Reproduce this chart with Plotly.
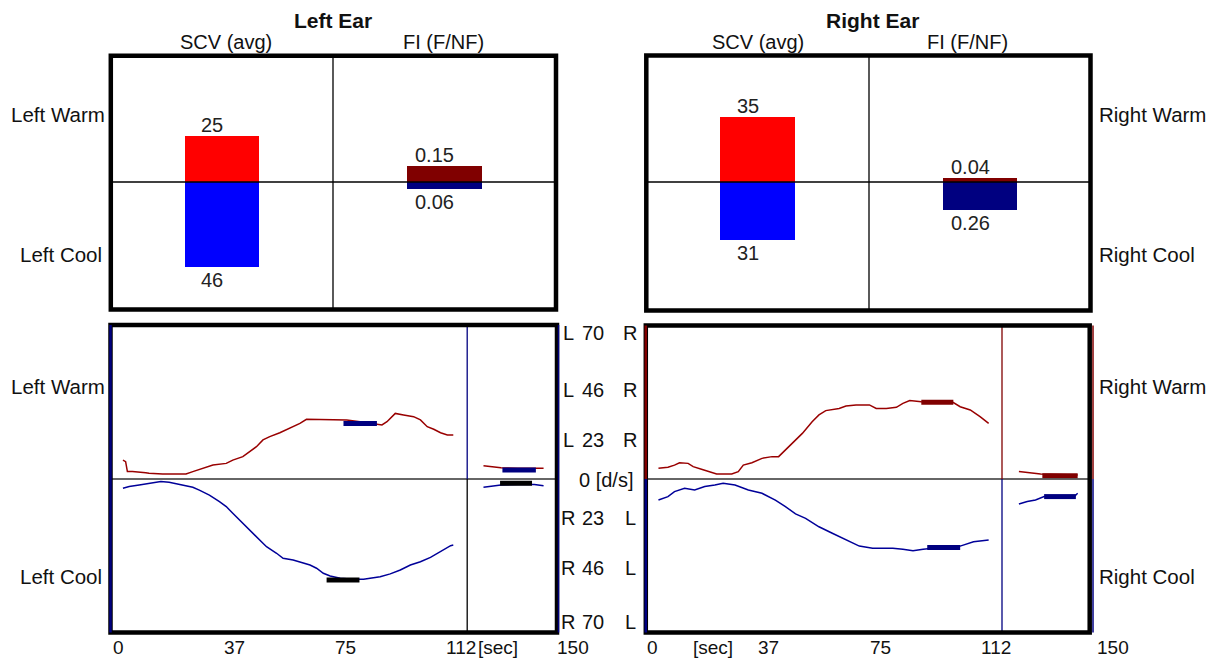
import plotly.graph_objects as go

W, H = 1213, 661

# ---------------- data ----------------
ears = ["Left Ear", "Right Ear"]
scv_warm = [25, 35]          # SCV (avg), warm (left ear, right ear)
scv_cool = [46, 31]          # SCV (avg), cool
fi_warm = [0.15, 0.04]       # FI (F/NF), warm
fi_cool = [0.06, 0.26]       # FI (F/NF), cool

marker_time = 120            # end of stimulus [sec]

# left ear, warm response (d/s) over time (sec)
lw_t = [3.7, 4.6, 5.2, 6.9, 11.4, 12.5, 17.1, 25.0, 27.3, 30.7, 34.1, 38.6, 40.8, 44.2, 46.5, 48.8, 51.0,
        53.3, 56.7, 60.1, 63.5, 65.7, 69.1, 74.8, 79.3, 83.8, 88.4, 91.2, 92.9, 94.6, 95.7, 98.5, 101.9,
        104.2, 106.5, 108.7, 111.0, 113.3, 115.3]
lw_v = [8.7, 8.0, 3.4, 3.4, 2.9, 2.6, 2.3, 2.3, 3.4, 4.9, 6.4, 7.2, 8.7, 10.3, 12.6, 14.9, 18.0, 19.5,
        21.3, 23.3, 25.6, 27.5, 27.5, 27.2, 27.2, 26.4, 25.6, 24.9, 26.4, 28.7, 30.2, 29.5, 28.7, 27.2,
        24.1, 22.9, 21.3, 20.3, 20.3]
lw_post_t = [125.5, 128.0, 131.4, 137.0, 145.8]
lw_post_v = [6.1, 5.7, 5.2, 4.9, 4.9]
lw_hl_t = [78.2, 89.5]
lw_hl_v = [25.6, 25.6]
lw_post_hl_t = [131.9, 143.2]
lw_post_hl_v = [4.1, 4.1]

# left ear, cool response
lc_t = [3.7, 5.8, 9.2, 12.5, 16.5, 19.3, 23.9, 27.3, 29.5, 32.9, 36.3, 38.6, 40.8, 43.1, 45.4, 47.6, 49.9,
        52.2, 55.6, 57.8, 61.2, 64.6, 66.9, 69.1, 71.4, 73.7, 77.1, 81.6, 85.0, 87.2, 90.6, 94.0, 97.4,
        100.8, 104.2, 107.6, 109.9, 112.1, 114.4, 115.3]
lc_v = [-4.3, -3.5, -2.8, -2.0, -1.2, -1.5, -2.8, -3.8, -5.1, -7.4, -10.4, -12.7, -15.8, -18.9, -22.0,
        -25.0, -28.1, -31.2, -34.2, -36.5, -37.3, -38.8, -39.6, -41.1, -43.4, -44.7, -45.7, -46.2, -46.2,
        -45.7, -45.0, -43.7, -41.9, -39.6, -38.1, -36.1, -34.2, -32.7, -30.7, -30.4]
lc_post_t = [125.5, 129.1, 131.4, 137.0, 142.7, 145.8]
lc_post_v = [-3.8, -3.2, -2.8, -2.5, -2.5, -3.1]
lc_hl_t = [72.5, 83.6]
lc_hl_v = [-46.5, -46.5]
lc_post_hl_t = [131.1, 141.9]
lc_post_hl_v = [-2.0, -2.0]

# right ear, warm response
rw_t = [4.2, 7.4, 9.6, 11.3, 14.2, 15.9, 18.7, 21.0, 23.8, 28.9, 31.1, 32.8, 35.7, 39.1, 42.5, 44.7, 47.0,
        49.3, 52.7, 56.0, 58.3, 60.6, 65.1, 67.4, 70.8, 75.3, 77.6, 81.0, 84.4, 86.6, 88.9, 92.8, 103.6,
        105.9, 109.3, 112.6, 115.5]
rw_v = [4.9, 5.4, 6.4, 7.5, 7.2, 5.7, 4.5, 3.4, 2.3, 2.3, 3.4, 6.4, 7.5, 9.5, 10.3, 10.3, 13.4, 16.4,
        21.0, 26.4, 29.5, 31.5, 32.5, 33.6, 34.1, 34.1, 32.5, 32.5, 33.0, 34.8, 36.1, 35.6, 35.2, 33.3,
        31.8, 28.7, 25.6]
rw_post_t = [125.7, 129.6, 133.0, 145.5]
rw_post_v = [3.4, 2.9, 2.3, 1.8]
rw_hl_t = [92.8, 103.6]
rw_hl_v = [35.3, 35.3]
rw_post_hl_t = [133.6, 145.5]
rw_post_hl_v = [1.5, 1.5]

# right ear, cool response
rc_t = [4.2, 7.4, 9.6, 13.0, 16.4, 19.8, 23.2, 26.0, 30.0, 34.5, 39.1, 43.6, 47.0, 50.4, 53.8, 58.3, 62.8,
        67.4, 71.9, 76.4, 83.2, 86.6, 90.0, 93.4, 99.1, 105.9, 110.4, 115.5]
rc_v = [-9.7, -8.1, -5.8, -4.3, -5.1, -3.5, -2.8, -2.0, -2.8, -5.1, -6.6, -9.7, -12.7, -16.1, -18.1,
        -22.0, -25.0, -28.1, -30.9, -31.9, -31.9, -32.4, -33.0, -32.4, -31.5, -30.9, -28.9, -28.1]
rc_post_t = [125.7, 128.5, 131.3, 134.2, 144.4, 145.5]
rc_post_v = [-11.5, -10.4, -9.7, -8.1, -8.1, -6.6]
rc_hl_t = [94.8, 105.9]
rc_hl_v = [-31.5, -31.5]
rc_post_hl_t = [134.2, 144.9]
rc_post_hl_v = [-8.1, -8.1]

# tick labels
time_tick_labels = ["0", "37", "75", "112", "150"]
time_tick_pos = [0, 37.5, 75, 112.5, 150]
speed_scale_labels = [70, 46, 23, 0, 23, 46, 70]
speed_scale_pos = [67.2, 41.0, 18.0, -0.5, -18.0, -41.0, -65.9]
speed_scale_sides = [("L", "R"), ("L", "R"), ("L", "R"), None, ("R", "L"), ("R", "L"), ("R", "L")]

# ---------------- styling ----------------
FONT = "Liberation Sans, Arial, sans-serif"
RED, BLUE = "#ff0000", "#0000ff"
DRED, NAVY = "#800000", "#000080"
CURVE_RED, CURVE_BLUE = "#990000", "#000099"
FS = 20
TXT = "#111"


def px(x):
    return x / W


def py(y):
    return 1 - y / H


fig = go.Figure()

axes = {
    "1": ((111, 333), (52, 312), [-1.5, 1.5], [-70, 70]),
    "2": ((333, 556), (52, 312), [-1.5, 1.5], [-1.2, 1.2]),
    "3": ((646, 869), (52, 312), [-1.5, 1.5], [-70, 70]),
    "4": ((869, 1091), (52, 312), [-1.5, 1.5], [-1.2, 1.2]),
    "5": ((112, 556), (327, 631), [0, 150], [-70, 70]),
    "6": ((646, 1091), (327, 631), [0, 150], [-70, 70]),
}
layout_axes = {}
for k, (xd, yd, xr, yr) in axes.items():
    xn = "xaxis" if k == "1" else "xaxis" + k
    yn = "yaxis" if k == "1" else "yaxis" + k
    layout_axes[xn] = dict(domain=[px(xd[0]), px(xd[1])], range=xr, visible=False, fixedrange=True,
                           anchor="y" if k == "1" else "y" + k)
    layout_axes[yn] = dict(domain=[py(yd[1]), py(yd[0])], range=yr, visible=False, fixedrange=True,
                           anchor="x" if k == "1" else "x" + k)


def ref(k):
    return ("x" if k == "1" else "x" + k), ("y" if k == "1" else "y" + k)


# ---- bars ----
bar_sets = [
    ("1", scv_warm[0], -scv_cool[0], RED, BLUE, str(scv_warm[0]), str(scv_cool[0])),
    ("2", fi_warm[0], -fi_cool[0], DRED, NAVY, f"{fi_warm[0]:.2f}", f"{fi_cool[0]:.2f}"),
    ("3", scv_warm[1], -scv_cool[1], RED, BLUE, str(scv_warm[1]), str(scv_cool[1])),
    ("4", fi_warm[1], -fi_cool[1], DRED, NAVY, f"{fi_warm[1]:.2f}", f"{fi_cool[1]:.2f}"),
]
annotations = []
for k, wv, cv, wc, cc, wt, ct in bar_sets:
    xr, yr = ref(k)
    fig.add_trace(go.Bar(x=[0], y=[wv], width=1, marker=dict(color=wc, line_width=0),
                         xaxis=xr, yaxis=yr, showlegend=False, hoverinfo="skip"))
    fig.add_trace(go.Bar(x=[0], y=[cv], width=1, marker=dict(color=cc, line_width=0),
                         xaxis=xr, yaxis=yr, showlegend=False, hoverinfo="skip"))
    annotations.append(dict(text=wt, x=0, y=wv, xref=xr, yref=yr, showarrow=False, xshift=-10,
                            yshift=11, font=dict(size=FS, color="#222", family=FONT)))
    annotations.append(dict(text=ct, x=0, y=cv, xref=xr, yref=yr, showarrow=False, xshift=-10,
                            yshift=-13, font=dict(size=FS, color="#222", family=FONT)))


# ---- curves ----
def line(k, t, v, color, width=1.5):
    xr, yr = ref(k)
    fig.add_trace(go.Scatter(x=t, y=v, mode="lines", line=dict(color=color, width=width),
                             xaxis=xr, yaxis=yr, showlegend=False, hoverinfo="skip"))


line("5", lw_t, lw_v, CURVE_RED)
line("5", lw_post_t, lw_post_v, CURVE_RED)
line("5", lw_hl_t, lw_hl_v, NAVY, 5)
line("5", lw_post_hl_t, lw_post_hl_v, NAVY, 5)
line("5", lc_t, lc_v, CURVE_BLUE)
line("5", lc_post_t, lc_post_v, CURVE_BLUE)
line("5", lc_hl_t, lc_hl_v, "#000000", 5)
line("5", lc_post_hl_t, lc_post_hl_v, "#000000", 5)

line("6", rw_t, rw_v, CURVE_RED)
line("6", rw_post_t, rw_post_v, CURVE_RED)
line("6", rw_hl_t, rw_hl_v, DRED, 5)
line("6", rw_post_hl_t, rw_post_hl_v, DRED, 5)
line("6", rc_t, rc_v, CURVE_BLUE)
line("6", rc_post_t, rc_post_v, CURVE_BLUE)
line("6", rc_hl_t, rc_hl_v, NAVY, 5)
line("6", rc_post_hl_t, rc_post_hl_v, NAVY, 5)

# ---- shapes ----
shapes = []


def pline(x0, y0, x1, y1, color="#000", width=1.3):
    shapes.append(dict(type="line", xref="paper", yref="paper", x0=px(x0), y0=py(y0), x1=px(x1),
                       y1=py(y1), line=dict(color=color, width=width), layer="above"))


def prect(x0, y0, x1, y1, width=4.5):
    shapes.append(dict(type="rect", xref="paper", yref="paper", x0=px(x0), y0=py(y0), x1=px(x1),
                       y1=py(y1), line=dict(color="#000", width=width), layer="above"))


# top panels
pline(111, 182, 556, 182)
pline(333, 56, 333, 309)
prect(110.8, 55.8, 556, 309.5)
pline(646, 182, 1090, 182)
pline(869, 56, 869, 310)
prect(646.3, 55.5, 1090.5, 310.5)

# bottom panels: zero line and stimulus-end marker in data coordinates
for k, top_c, bot_c in (("5", NAVY, "#000"), ("6", DRED, NAVY)):
    xr, yr = ref(k)
    shapes.append(dict(type="line", xref=xr, yref=yr, x0=0, x1=150, y0=0, y1=0,
                       line=dict(color="#333", width=1.3), layer="above"))
    shapes.append(dict(type="line", xref=xr, yref=yr, x0=marker_time, x1=marker_time, y0=0, y1=72,
                       line=dict(color=top_c, width=1.3), layer="above"))
    shapes.append(dict(type="line", xref=xr, yref=yr, x0=marker_time, x1=marker_time, y0=-72, y1=0,
                       line=dict(color=bot_c, width=1.3), layer="above"))

prect(110.5, 325, 557, 632.5)
prect(645.8, 325.5, 1089.7, 632.5)
# coloured edge stripes
pline(110.5, 325, 110.5, 632.5, NAVY, 2.5)
pline(558.5, 325, 558.5, 632.5, NAVY, 1.5)
pline(645.8, 325.5, 645.8, 479, DRED, 2.5)
pline(645.8, 479, 645.8, 632.5, NAVY, 2.5)
pline(1093, 325.5, 1093, 479, DRED, 1.5)
pline(1093, 479, 1093, 632.5, NAVY, 1.5)


# ---- texts ----
def ptext(text, x, y, xanchor="center", size=FS, bold=False):
    annotations.append(dict(text=f"<b>{text}</b>" if bold else text, x=px(x), y=py(y), xref="paper",
                            yref="paper", xanchor=xanchor, yanchor="middle", showarrow=False,
                            font=dict(size=size, color=TXT, family=FONT)))


ptext(ears[0], 333, 21, bold=True, size=21)
ptext(ears[1], 872, 21, bold=True, size=21)
for cx in (226, 758):
    ptext("SCV (avg)", cx, 42)
for cx in (443, 967):
    ptext("FI (F/NF)", cx, 42)

for y in (114, 386):
    ptext("Left Warm", 107, y, xanchor="right", size=20.5)
    ptext("Right Warm", 1097, y, xanchor="left", size=20.5)
for y in (254, 576):
    ptext("Left Cool", 104, y, xanchor="right", size=20.5)
    ptext("Right Cool", 1097, y, xanchor="left", size=20.5)

# central speed scale
f = dict(size=FS, color=TXT, family=FONT)
for val, pos, sides in zip(speed_scale_labels, speed_scale_pos, speed_scale_sides):
    if sides is None:
        annotations.append(dict(text=f"{val} [d/s]", x=px(635), y=pos, xref="paper", yref="y5",
                                xanchor="right", yanchor="middle", showarrow=False, font=f))
        continue
    annotations.append(dict(text=sides[0], x=px(568), y=pos, xref="paper", yref="y5",
                            xanchor="center", yanchor="middle", showarrow=False, font=f))
    annotations.append(dict(text=str(val), x=px(593), y=pos, xref="paper", yref="y5",
                            xanchor="center", yanchor="middle", showarrow=False, font=f))
    annotations.append(dict(text=sides[1], x=px(630), y=pos, xref="paper", yref="y5",
                            xanchor="center", yanchor="middle", showarrow=False, font=f))

# time axis labels (left-aligned at their tick positions)
ft = dict(size=19, color=TXT, family=FONT)
for k, last_shift in (("5", 0), ("6", 5)):
    xr, _ = ref(k)
    for i, (lab, pos) in enumerate(zip(time_tick_labels, time_tick_pos)):
        annotations.append(dict(text=lab, x=pos, y=py(647), xref=xr, yref="paper", showarrow=False,
                                xanchor="left", yanchor="middle",
                                xshift=(last_shift if i == len(time_tick_pos) - 1 else 0) - 1, font=ft))
for cx in (498, 713):
    annotations.append(dict(text="[sec]", x=px(cx), y=py(647), xref="paper", yref="paper",
                            xanchor="center", yanchor="middle", showarrow=False, font=ft))

fig.update_layout(
    width=W, height=H, autosize=False,
    margin=dict(l=0, r=0, t=0, b=0),
    paper_bgcolor="white", plot_bgcolor="rgba(0,0,0,0)",
    barmode="relative", bargap=0,
    showlegend=False,
    font=dict(family=FONT, size=FS, color=TXT),
    shapes=shapes, annotations=annotations,
    **layout_axes,
)

fig.write_html("out.html", include_plotlyjs=True, config={"displayModeBar": False, "staticPlot": True},
               post_script="document.body.style.margin='0';document.body.style.overflow='hidden';")
